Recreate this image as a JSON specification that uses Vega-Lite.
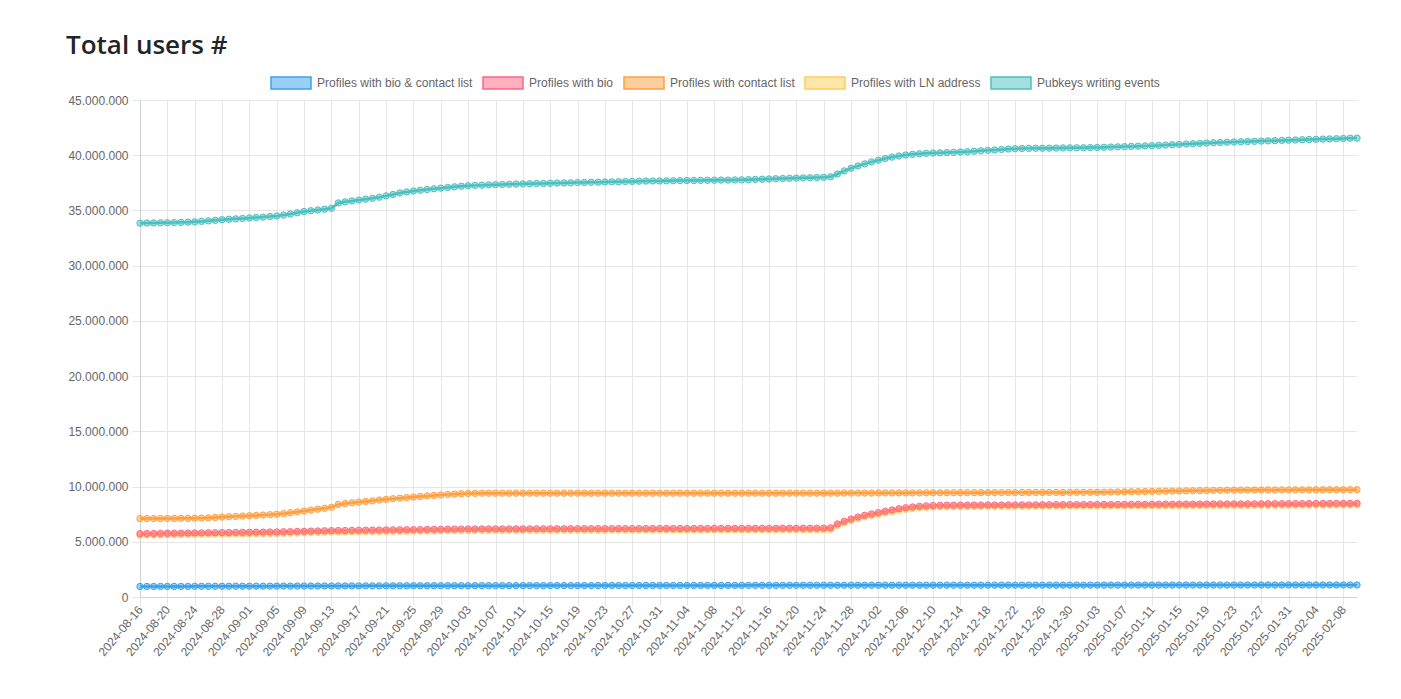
{
"$schema": "https://vega.github.io/schema/vega-lite/v6.json",
"width": 1217,
"height": 497,
"autosize": {"type": "none"},
"padding": {"left": 140, "top": 100, "right": 44, "bottom": 102},
"background": "white",
"title": {"text": "Total users #", "anchor": "start", "frame": "group", "dx": -74, "offset": 3, "font": "Open Sans", "fontSize": 26, "fontWeight": 600, "color": "#212529"},
"data": {"values": [
{"d":"2024-08-16","a":950000,"b":5740000,"c":7100000,"l":5600000,"p":33850000},
{"d":"2024-08-17","a":952000,"b":5748000,"c":7100000,"l":5608000,"p":33860000},
{"d":"2024-08-18","a":954000,"b":5755000,"c":7100000,"l":5615000,"p":33870000},
{"d":"2024-08-19","a":955000,"b":5763000,"c":7100000,"l":5623000,"p":33880000},
{"d":"2024-08-20","a":957000,"b":5770000,"c":7110000,"l":5630000,"p":33890000},
{"d":"2024-08-21","a":959000,"b":5778000,"c":7110000,"l":5638000,"p":33900000},
{"d":"2024-08-22","a":961000,"b":5785000,"c":7120000,"l":5645000,"p":33920000},
{"d":"2024-08-23","a":962000,"b":5793000,"c":7120000,"l":5653000,"p":33940000},
{"d":"2024-08-24","a":964000,"b":5800000,"c":7130000,"l":5660000,"p":33970000},
{"d":"2024-08-25","a":966000,"b":5808000,"c":7150000,"l":5668000,"p":34010000},
{"d":"2024-08-26","a":968000,"b":5815000,"c":7170000,"l":5675000,"p":34060000},
{"d":"2024-08-27","a":969000,"b":5823000,"c":7200000,"l":5683000,"p":34110000},
{"d":"2024-08-28","a":971000,"b":5830000,"c":7240000,"l":5690000,"p":34160000},
{"d":"2024-08-29","a":973000,"b":5838000,"c":7270000,"l":5698000,"p":34200000},
{"d":"2024-08-30","a":975000,"b":5845000,"c":7300000,"l":5705000,"p":34240000},
{"d":"2024-08-31","a":976000,"b":5853000,"c":7330000,"l":5713000,"p":34280000},
{"d":"2024-09-01","a":978000,"b":5860000,"c":7360000,"l":5720000,"p":34320000},
{"d":"2024-09-02","a":980000,"b":5868000,"c":7390000,"l":5728000,"p":34360000},
{"d":"2024-09-03","a":982000,"b":5875000,"c":7420000,"l":5735000,"p":34400000},
{"d":"2024-09-04","a":983000,"b":5883000,"c":7450000,"l":5743000,"p":34450000},
{"d":"2024-09-05","a":985000,"b":5890000,"c":7490000,"l":5750000,"p":34500000},
{"d":"2024-09-06","a":987000,"b":5905000,"c":7550000,"l":5765000,"p":34580000},
{"d":"2024-09-07","a":989000,"b":5920000,"c":7630000,"l":5780000,"p":34680000},
{"d":"2024-09-08","a":990000,"b":5935000,"c":7710000,"l":5795000,"p":34790000},
{"d":"2024-09-09","a":992000,"b":5950000,"c":7790000,"l":5810000,"p":34900000},
{"d":"2024-09-10","a":994000,"b":5965000,"c":7870000,"l":5825000,"p":34970000},
{"d":"2024-09-11","a":996000,"b":5980000,"c":7950000,"l":5840000,"p":35040000},
{"d":"2024-09-12","a":997000,"b":5995000,"c":8030000,"l":5855000,"p":35110000},
{"d":"2024-09-13","a":999000,"b":6010000,"c":8120000,"l":5870000,"p":35200000},
{"d":"2024-09-14","a":1001000,"b":6018000,"c":8380000,"l":5878000,"p":35680000},
{"d":"2024-09-15","a":1003000,"b":6025000,"c":8460000,"l":5885000,"p":35780000},
{"d":"2024-09-16","a":1004000,"b":6033000,"c":8530000,"l":5893000,"p":35860000},
{"d":"2024-09-17","a":1006000,"b":6040000,"c":8590000,"l":5900000,"p":35940000},
{"d":"2024-09-18","a":1008000,"b":6048000,"c":8650000,"l":5908000,"p":36020000},
{"d":"2024-09-19","a":1010000,"b":6055000,"c":8710000,"l":5915000,"p":36100000},
{"d":"2024-09-20","a":1011000,"b":6063000,"c":8780000,"l":5923000,"p":36200000},
{"d":"2024-09-21","a":1013000,"b":6070000,"c":8840000,"l":5930000,"p":36320000},
{"d":"2024-09-22","a":1015000,"b":6078000,"c":8900000,"l":5938000,"p":36450000},
{"d":"2024-09-23","a":1017000,"b":6085000,"c":8950000,"l":5945000,"p":36580000},
{"d":"2024-09-24","a":1018000,"b":6093000,"c":9000000,"l":5953000,"p":36680000},
{"d":"2024-09-25","a":1020000,"b":6100000,"c":9050000,"l":5960000,"p":36760000},
{"d":"2024-09-26","a":1021000,"b":6108000,"c":9100000,"l":5968000,"p":36830000},
{"d":"2024-09-27","a":1021000,"b":6115000,"c":9150000,"l":5975000,"p":36900000},
{"d":"2024-09-28","a":1022000,"b":6123000,"c":9200000,"l":5983000,"p":36960000},
{"d":"2024-09-29","a":1023000,"b":6130000,"c":9240000,"l":5990000,"p":37020000},
{"d":"2024-09-30","a":1023000,"b":6138000,"c":9280000,"l":5998000,"p":37080000},
{"d":"2024-10-01","a":1024000,"b":6145000,"c":9320000,"l":6005000,"p":37140000},
{"d":"2024-10-02","a":1025000,"b":6153000,"c":9350000,"l":6013000,"p":37200000},
{"d":"2024-10-03","a":1025000,"b":6160000,"c":9380000,"l":6020000,"p":37240000},
{"d":"2024-10-04","a":1026000,"b":6161000,"c":9390000,"l":6021000,"p":37270000},
{"d":"2024-10-05","a":1027000,"b":6163000,"c":9400000,"l":6023000,"p":37290000},
{"d":"2024-10-06","a":1027000,"b":6164000,"c":9400000,"l":6024000,"p":37310000},
{"d":"2024-10-07","a":1028000,"b":6165000,"c":9400000,"l":6025000,"p":37330000},
{"d":"2024-10-08","a":1029000,"b":6167000,"c":9400000,"l":6027000,"p":37350000},
{"d":"2024-10-09","a":1029000,"b":6168000,"c":9400000,"l":6028000,"p":37370000},
{"d":"2024-10-10","a":1030000,"b":6169000,"c":9400000,"l":6029000,"p":37390000},
{"d":"2024-10-11","a":1031000,"b":6171000,"c":9400000,"l":6031000,"p":37410000},
{"d":"2024-10-12","a":1031000,"b":6172000,"c":9400000,"l":6032000,"p":37420000},
{"d":"2024-10-13","a":1032000,"b":6174000,"c":9400000,"l":6034000,"p":37440000},
{"d":"2024-10-14","a":1033000,"b":6175000,"c":9400000,"l":6035000,"p":37450000},
{"d":"2024-10-15","a":1033000,"b":6176000,"c":9400000,"l":6036000,"p":37460000},
{"d":"2024-10-16","a":1034000,"b":6178000,"c":9400000,"l":6038000,"p":37480000},
{"d":"2024-10-17","a":1035000,"b":6179000,"c":9400000,"l":6039000,"p":37490000},
{"d":"2024-10-18","a":1035000,"b":6180000,"c":9400000,"l":6040000,"p":37500000},
{"d":"2024-10-19","a":1036000,"b":6182000,"c":9400000,"l":6042000,"p":37520000},
{"d":"2024-10-20","a":1037000,"b":6183000,"c":9400000,"l":6043000,"p":37530000},
{"d":"2024-10-21","a":1037000,"b":6184000,"c":9400000,"l":6044000,"p":37550000},
{"d":"2024-10-22","a":1038000,"b":6186000,"c":9400000,"l":6046000,"p":37560000},
{"d":"2024-10-23","a":1039000,"b":6187000,"c":9400000,"l":6047000,"p":37580000},
{"d":"2024-10-24","a":1039000,"b":6188000,"c":9400000,"l":6048000,"p":37590000},
{"d":"2024-10-25","a":1040000,"b":6190000,"c":9400000,"l":6050000,"p":37600000},
{"d":"2024-10-26","a":1041000,"b":6191000,"c":9400000,"l":6051000,"p":37620000},
{"d":"2024-10-27","a":1041000,"b":6192000,"c":9400000,"l":6052000,"p":37630000},
{"d":"2024-10-28","a":1042000,"b":6194000,"c":9400000,"l":6054000,"p":37650000},
{"d":"2024-10-29","a":1043000,"b":6195000,"c":9400000,"l":6055000,"p":37660000},
{"d":"2024-10-30","a":1043000,"b":6196000,"c":9400000,"l":6056000,"p":37670000},
{"d":"2024-10-31","a":1044000,"b":6198000,"c":9400000,"l":6058000,"p":37670000},
{"d":"2024-11-01","a":1045000,"b":6199000,"c":9400000,"l":6059000,"p":37680000},
{"d":"2024-11-02","a":1045000,"b":6200000,"c":9400000,"l":6060000,"p":37690000},
{"d":"2024-11-03","a":1046000,"b":6202000,"c":9400000,"l":6062000,"p":37700000},
{"d":"2024-11-04","a":1047000,"b":6203000,"c":9400000,"l":6063000,"p":37710000},
{"d":"2024-11-05","a":1047000,"b":6204000,"c":9400000,"l":6064000,"p":37710000},
{"d":"2024-11-06","a":1048000,"b":6206000,"c":9400000,"l":6066000,"p":37720000},
{"d":"2024-11-07","a":1049000,"b":6207000,"c":9400000,"l":6067000,"p":37730000},
{"d":"2024-11-08","a":1049000,"b":6209000,"c":9400000,"l":6069000,"p":37740000},
{"d":"2024-11-09","a":1050000,"b":6210000,"c":9400000,"l":6070000,"p":37750000},
{"d":"2024-11-10","a":1051000,"b":6211000,"c":9400000,"l":6071000,"p":37750000},
{"d":"2024-11-11","a":1051000,"b":6213000,"c":9400000,"l":6073000,"p":37760000},
{"d":"2024-11-12","a":1052000,"b":6214000,"c":9400000,"l":6074000,"p":37770000},
{"d":"2024-11-13","a":1053000,"b":6215000,"c":9400000,"l":6075000,"p":37790000},
{"d":"2024-11-14","a":1053000,"b":6217000,"c":9400000,"l":6077000,"p":37810000},
{"d":"2024-11-15","a":1054000,"b":6218000,"c":9400000,"l":6078000,"p":37830000},
{"d":"2024-11-16","a":1055000,"b":6219000,"c":9400000,"l":6079000,"p":37850000},
{"d":"2024-11-17","a":1055000,"b":6221000,"c":9400000,"l":6081000,"p":37870000},
{"d":"2024-11-18","a":1056000,"b":6222000,"c":9400000,"l":6082000,"p":37890000},
{"d":"2024-11-19","a":1057000,"b":6223000,"c":9400000,"l":6083000,"p":37910000},
{"d":"2024-11-20","a":1057000,"b":6225000,"c":9400000,"l":6085000,"p":37930000},
{"d":"2024-11-21","a":1058000,"b":6226000,"c":9400000,"l":6086000,"p":37950000},
{"d":"2024-11-22","a":1059000,"b":6227000,"c":9400000,"l":6087000,"p":37960000},
{"d":"2024-11-23","a":1059000,"b":6229000,"c":9400000,"l":6089000,"p":37980000},
{"d":"2024-11-24","a":1060000,"b":6230000,"c":9400000,"l":6090000,"p":38000000},
{"d":"2024-11-25","a":1060000,"b":6260000,"c":9402000,"l":6120000,"p":38050000},
{"d":"2024-11-26","a":1061000,"b":6620000,"c":9404000,"l":6480000,"p":38300000},
{"d":"2024-11-27","a":1061000,"b":6850000,"c":9407000,"l":6710000,"p":38580000},
{"d":"2024-11-28","a":1062000,"b":7060000,"c":9409000,"l":6920000,"p":38820000},
{"d":"2024-11-29","a":1062000,"b":7240000,"c":9411000,"l":7100000,"p":39030000},
{"d":"2024-11-30","a":1062000,"b":7400000,"c":9413000,"l":7260000,"p":39220000},
{"d":"2024-12-01","a":1063000,"b":7520000,"c":9415000,"l":7380000,"p":39400000},
{"d":"2024-12-02","a":1063000,"b":7640000,"c":9418000,"l":7500000,"p":39550000},
{"d":"2024-12-03","a":1063000,"b":7760000,"c":9420000,"l":7620000,"p":39700000},
{"d":"2024-12-04","a":1064000,"b":7880000,"c":9422000,"l":7740000,"p":39830000},
{"d":"2024-12-05","a":1064000,"b":7990000,"c":9424000,"l":7850000,"p":39930000},
{"d":"2024-12-06","a":1065000,"b":8080000,"c":9426000,"l":7940000,"p":40020000},
{"d":"2024-12-07","a":1065000,"b":8150000,"c":9429000,"l":8010000,"p":40080000},
{"d":"2024-12-08","a":1065000,"b":8210000,"c":9431000,"l":8070000,"p":40130000},
{"d":"2024-12-09","a":1066000,"b":8250000,"c":9433000,"l":8110000,"p":40170000},
{"d":"2024-12-10","a":1066000,"b":8280000,"c":9435000,"l":8140000,"p":40200000},
{"d":"2024-12-11","a":1067000,"b":8300000,"c":9437000,"l":8160000,"p":40220000},
{"d":"2024-12-12","a":1067000,"b":8310000,"c":9440000,"l":8170000,"p":40240000},
{"d":"2024-12-13","a":1067000,"b":8313000,"c":9442000,"l":8173000,"p":40260000},
{"d":"2024-12-14","a":1068000,"b":8316000,"c":9444000,"l":8176000,"p":40290000},
{"d":"2024-12-15","a":1068000,"b":8318000,"c":9445000,"l":8178000,"p":40320000},
{"d":"2024-12-16","a":1068000,"b":8321000,"c":9447000,"l":8181000,"p":40360000},
{"d":"2024-12-17","a":1069000,"b":8324000,"c":9449000,"l":8184000,"p":40400000},
{"d":"2024-12-18","a":1069000,"b":8327000,"c":9451000,"l":8187000,"p":40440000},
{"d":"2024-12-19","a":1070000,"b":8330000,"c":9453000,"l":8190000,"p":40480000},
{"d":"2024-12-20","a":1070000,"b":8333000,"c":9454000,"l":8193000,"p":40520000},
{"d":"2024-12-21","a":1070000,"b":8335000,"c":9456000,"l":8195000,"p":40560000},
{"d":"2024-12-22","a":1071000,"b":8338000,"c":9458000,"l":8198000,"p":40590000},
{"d":"2024-12-23","a":1071000,"b":8341000,"c":9460000,"l":8201000,"p":40610000},
{"d":"2024-12-24","a":1072000,"b":8344000,"c":9462000,"l":8204000,"p":40620000},
{"d":"2024-12-25","a":1072000,"b":8347000,"c":9463000,"l":8207000,"p":40630000},
{"d":"2024-12-26","a":1072000,"b":8350000,"c":9465000,"l":8210000,"p":40630000},
{"d":"2024-12-27","a":1073000,"b":8352000,"c":9467000,"l":8212000,"p":40640000},
{"d":"2024-12-28","a":1073000,"b":8355000,"c":9469000,"l":8215000,"p":40650000},
{"d":"2024-12-29","a":1073000,"b":8358000,"c":9471000,"l":8218000,"p":40660000},
{"d":"2024-12-30","a":1074000,"b":8361000,"c":9472000,"l":8221000,"p":40670000},
{"d":"2024-12-31","a":1074000,"b":8364000,"c":9474000,"l":8224000,"p":40670000},
{"d":"2025-01-01","a":1075000,"b":8367000,"c":9476000,"l":8227000,"p":40680000},
{"d":"2025-01-02","a":1075000,"b":8369000,"c":9478000,"l":8229000,"p":40690000},
{"d":"2025-01-03","a":1075000,"b":8372000,"c":9480000,"l":8232000,"p":40700000},
{"d":"2025-01-04","a":1076000,"b":8375000,"c":9490000,"l":8235000,"p":40720000},
{"d":"2025-01-05","a":1076000,"b":8378000,"c":9500000,"l":8238000,"p":40740000},
{"d":"2025-01-06","a":1077000,"b":8381000,"c":9510000,"l":8241000,"p":40760000},
{"d":"2025-01-07","a":1077000,"b":8384000,"c":9520000,"l":8244000,"p":40780000},
{"d":"2025-01-08","a":1077000,"b":8386000,"c":9530000,"l":8246000,"p":40800000},
{"d":"2025-01-09","a":1078000,"b":8389000,"c":9540000,"l":8249000,"p":40820000},
{"d":"2025-01-10","a":1078000,"b":8392000,"c":9550000,"l":8252000,"p":40840000},
{"d":"2025-01-11","a":1078000,"b":8395000,"c":9560000,"l":8255000,"p":40860000},
{"d":"2025-01-12","a":1079000,"b":8398000,"c":9570000,"l":8258000,"p":40890000},
{"d":"2025-01-13","a":1079000,"b":8401000,"c":9580000,"l":8261000,"p":40920000},
{"d":"2025-01-14","a":1080000,"b":8403000,"c":9590000,"l":8263000,"p":40950000},
{"d":"2025-01-15","a":1080000,"b":8406000,"c":9600000,"l":8266000,"p":40980000},
{"d":"2025-01-16","a":1080000,"b":8409000,"c":9610000,"l":8269000,"p":41010000},
{"d":"2025-01-17","a":1081000,"b":8412000,"c":9620000,"l":8272000,"p":41040000},
{"d":"2025-01-18","a":1081000,"b":8415000,"c":9630000,"l":8275000,"p":41070000},
{"d":"2025-01-19","a":1082000,"b":8418000,"c":9640000,"l":8278000,"p":41100000},
{"d":"2025-01-20","a":1082000,"b":8420000,"c":9650000,"l":8280000,"p":41130000},
{"d":"2025-01-21","a":1082000,"b":8423000,"c":9660000,"l":8283000,"p":41150000},
{"d":"2025-01-22","a":1083000,"b":8426000,"c":9670000,"l":8286000,"p":41180000},
{"d":"2025-01-23","a":1083000,"b":8429000,"c":9680000,"l":8289000,"p":41200000},
{"d":"2025-01-24","a":1083000,"b":8432000,"c":9682000,"l":8292000,"p":41220000},
{"d":"2025-01-25","a":1084000,"b":8435000,"c":9684000,"l":8295000,"p":41240000},
{"d":"2025-01-26","a":1084000,"b":8437000,"c":9687000,"l":8297000,"p":41260000},
{"d":"2025-01-27","a":1085000,"b":8440000,"c":9689000,"l":8300000,"p":41280000},
{"d":"2025-01-28","a":1085000,"b":8443000,"c":9691000,"l":8303000,"p":41300000},
{"d":"2025-01-29","a":1085000,"b":8446000,"c":9693000,"l":8306000,"p":41320000},
{"d":"2025-01-30","a":1086000,"b":8449000,"c":9695000,"l":8309000,"p":41340000},
{"d":"2025-01-31","a":1086000,"b":8452000,"c":9698000,"l":8312000,"p":41360000},
{"d":"2025-02-01","a":1087000,"b":8454000,"c":9700000,"l":8314000,"p":41380000},
{"d":"2025-02-02","a":1087000,"b":8457000,"c":9702000,"l":8317000,"p":41400000},
{"d":"2025-02-03","a":1087000,"b":8460000,"c":9704000,"l":8320000,"p":41420000},
{"d":"2025-02-04","a":1088000,"b":8463000,"c":9706000,"l":8323000,"p":41440000},
{"d":"2025-02-05","a":1088000,"b":8466000,"c":9709000,"l":8326000,"p":41460000},
{"d":"2025-02-06","a":1088000,"b":8469000,"c":9711000,"l":8329000,"p":41480000},
{"d":"2025-02-07","a":1089000,"b":8471000,"c":9713000,"l":8331000,"p":41500000},
{"d":"2025-02-08","a":1089000,"b":8474000,"c":9715000,"l":8334000,"p":41520000},
{"d":"2025-02-09","a":1090000,"b":8477000,"c":9717000,"l":8337000,"p":41540000},
{"d":"2025-02-10","a":1090000,"b":8480000,"c":9720000,"l":8340000,"p":41550000}
]},
"transform": [{"fold": ["p", "l", "c", "b", "a"], "as": ["s", "v"]}],
"encoding": {
  "x": {"field": "d", "type": "ordinal", "sort": null, "title": null,
    "scale": {"type": "point", "padding": 0},
    "axis": {"values": ["2024-08-16","2024-08-20","2024-08-24","2024-08-28","2024-09-01","2024-09-05","2024-09-09","2024-09-13","2024-09-17","2024-09-21","2024-09-25","2024-09-29","2024-10-03","2024-10-07","2024-10-11","2024-10-15","2024-10-19","2024-10-23","2024-10-27","2024-10-31","2024-11-04","2024-11-08","2024-11-12","2024-11-16","2024-11-20","2024-11-24","2024-11-28","2024-12-02","2024-12-06","2024-12-10","2024-12-14","2024-12-18","2024-12-22","2024-12-26","2024-12-30","2025-01-03","2025-01-07","2025-01-11","2025-01-15","2025-01-19","2025-01-23","2025-01-27","2025-01-31","2025-02-04","2025-02-08"],
      "labelAngle": -50, "grid": true, "tickSize": 8, "labelPadding": 2, "labelOverlap": false}},
  "y": {"field": "v", "type": "quantitative", "title": null,
    "scale": {"domain": [0, 45000000]},
    "axis": {"values": [0,5000000,10000000,15000000,20000000,25000000,30000000,35000000,40000000,45000000], "format": ",.0f", "grid": true, "tickSize": 8, "labelPadding": 4}},
  "color": {"field": "s", "type": "nominal",
    "scale": {"domain": ["a", "b", "c", "l", "p"], "range": ["#36a2eb", "#ff6384", "#ff9f40", "#ffcd56", "#4bc0c0"]},
    "legend": {"orient": "none", "legendX": 130, "legendY": -38, "direction": "horizontal", "title": null, "padding": 0,
      "labelExpr": "datum.value == 'a' ? 'Profiles with bio & contact list' : datum.value == 'b' ? 'Profiles with bio' : datum.value == 'c' ? 'Profiles with contact list' : datum.value == 'l' ? 'Profiles with LN address' : 'Pubkeys writing events'",
      "symbolType": "M-1,-0.3H1V0.3H-1Z", "symbolSize": 1600, "labelFont": "Liberation Sans", "labelFontSize": 12, "labelColor": "#666", "columnPadding": 7, "labelOffset": 5,
      "encode": {"symbols": {"update": {"fill": {"scale": "color", "field": "value"}, "fillOpacity": {"value": 0.5}, "stroke": {"scale": "color", "field": "value"}, "strokeWidth": {"value": 1.5}, "opacity": {"value": 1}}}}}}
},
"layer": [
  {"mark": {"type": "line", "strokeWidth": 2.5}},
  {"mark": {"type": "point", "filled": true, "size": 40, "fillOpacity": 0.5, "strokeWidth": 1, "opacity": 1},
   "encoding": {"stroke": {"field": "s", "type": "nominal", "legend": null, "scale": {"domain": ["a", "b", "c", "l", "p"], "range": ["#36a2eb", "#ff6384", "#ff9f40", "#ffcd56", "#4bc0c0"]}}}}
],
"config": {
  "locale": {"number": {"decimal": ",", "thousands": ".", "grouping": [3], "currency": ["", " €"]}},
  "view": {"stroke": null},
  "font": "Liberation Sans",
  "axis": {"labelFont": "Liberation Sans", "labelFontSize": 12, "labelColor": "#666", "gridColor": "#e6e6e6", "tickColor": "#e6e6e6", "domainColor": "#d2d2d2"}
}
}
